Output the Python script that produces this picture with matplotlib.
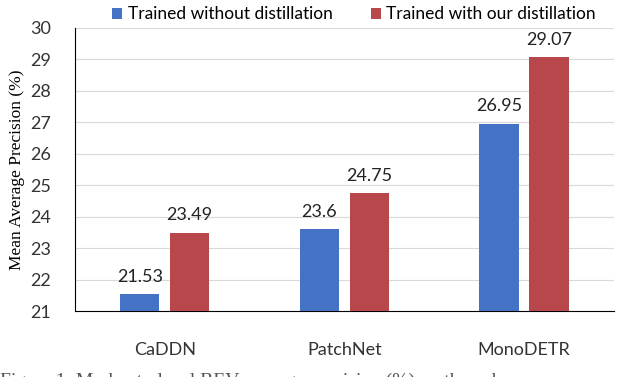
import matplotlib.pyplot as plt
import numpy as np

plt.rcParams["font.family"] = ["Lato", "DejaVu Sans"]

models = ["CaDDN", "PatchNet", "MonoDETR"]
without_distill = [21.53, 23.6, 26.95]
with_distill = [23.49, 24.75, 29.07]
without_labels = ["21.53", "23.6", "26.95"]
with_labels = ["23.49", "24.75", "29.07"]

BLUE = "#4472C4"
RED = "#B7474A"

fig = plt.figure(figsize=(6.4, 3.77), dpi=100)
ax = fig.add_axes([0.117, 0.175, 0.842, 0.751])

x = np.arange(len(models))
w = 0.22
off = 0.139
b1 = ax.bar(x - off, np.array(without_distill) - 21, w, bottom=21, color=BLUE,
            label="Trained without distillation", zorder=3)
b2 = ax.bar(x + off, np.array(with_distill) - 21, w, bottom=21, color=RED,
            label="Trained with our distillation", zorder=3)

for xi, v, s in zip(x - off, without_distill, without_labels):
    ax.text(xi, v + 0.3, s, ha="center", va="bottom", fontsize=13, color="#222222")
for xi, v, s in zip(x + off, with_distill, with_labels):
    ax.text(xi, v + 0.3, s, ha="center", va="bottom", fontsize=13, color="#222222")

ax.set_ylim(21, 30)
ax.set_xlim(-0.5, 2.5)
ax.set_yticks(range(21, 31))
ax.set_xticks(x)
ax.set_xticklabels(models)
ax.yaxis.grid(True, color="#D9D9D9", linewidth=0.8, zorder=0)
ax.set_axisbelow(True)
ax.tick_params(axis="both", length=0, labelsize=13, colors="#333333")
ax.tick_params(axis="x", pad=22)
ax.tick_params(axis="y", pad=17)
for s in ["top", "right"]:
    ax.spines[s].set_visible(False)
ax.spines["left"].set_color("black")
ax.spines["bottom"].set_color("black")

ax.set_ylabel("Mean Average Precision (%)", family="Liberation Serif", fontsize=12.5,
              labelpad=4)

fig.legend(handles=[b1, b2], loc="upper center", bbox_to_anchor=(0.553, 1.025), ncol=2,
           frameon=False, fontsize=12.5, handlelength=0.6, handleheight=0.6,
           columnspacing=2.2, handletextpad=0.3)

fig.text(0.0, -0.012, "Figure 1: Moderate-level BEV average precision (%) on the val",
         family="Liberation Serif", fontsize=14, color="#555555", va="center")

fig.savefig("out.png", dpi=100)
